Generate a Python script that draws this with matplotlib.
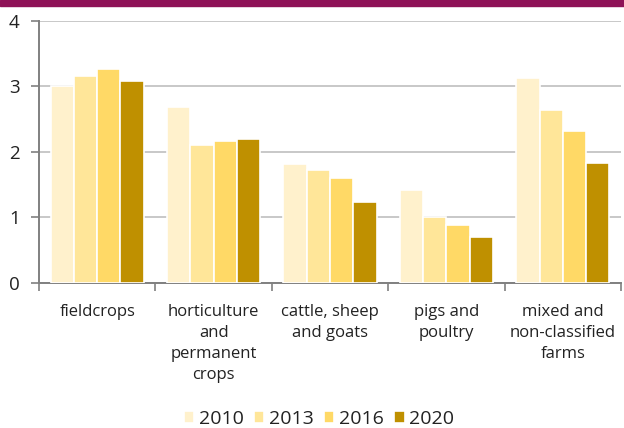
import matplotlib.pyplot as plt
import numpy as np

categories = ['fieldcrops', 'horticulture\nand\npermanent\ncrops', 'cattle, sheep\nand goats',
              'pigs and\npoultry', 'mixed and\nnon-classified\nfarms']
years = ['2010', '2013', '2016', '2020']
v2010 = [3.00, 2.69, 1.81, 1.41, 3.13]
v2013 = [3.15, 2.10, 1.72, 1.00, 2.63]
v2016 = [3.26, 2.16, 1.60, 0.88, 2.32]
v2020 = [3.08, 2.20, 1.23, 0.70, 1.82]
colors = ['#FFF1CC', '#FFE699', '#FFD966', '#BF9000']

plt.rcParams['font.family'] = ['Open Sans', 'DejaVu Sans']
px = 1 / 100
fig = plt.figure(figsize=(624 * px, 428 * px), dpi=100)
ax = fig.add_axes([39 / 624, 1 - 282.7 / 428, 582 / 624, 262 / 428])

x = np.arange(len(categories))
w = 0.2
for i, (vals, yr) in enumerate(zip([v2010, v2013, v2016, v2020], years)):
    ax.bar(x + (i - 1.5) * w, vals, width=w, color=colors[i], edgecolor='white',
           linewidth=1.2, label=yr, zorder=3)

ax.set_xlim(-0.5, len(categories) - 0.5)
ax.set_ylim(0, 4)
ax.set_yticks([0, 1, 2, 3, 4])
ax.yaxis.grid(True, color='#BFBFBF', linewidth=1.2, zorder=0)
ax.set_xticks(x)
ax.set_xticklabels(categories, fontsize=12, color='#222222', linespacing=1.42, va='top')
ax.set_xticks(np.arange(len(categories) + 1) - 0.5, minor=True)
ax.tick_params(axis='x', which='major', length=0, pad=15)
ax.tick_params(axis='x', which='minor', length=6, width=1.2, color='#808080')
ax.tick_params(axis='y', length=6, width=1.2, color='#808080', labelsize=13.5,
               labelcolor='#222222', pad=8)
for s in ['top', 'right']:
    ax.spines[s].set_visible(False)
for s in ['left', 'bottom']:
    ax.spines[s].set_color('#808080')
    ax.spines[s].set_linewidth(1.4)

fig.legend(loc='center', bbox_to_anchor=(319 / 624, 1 - 419 / 428), ncol=4, frameon=False,
           fontsize=14, handlelength=0.55, handleheight=0.55, handletextpad=0.25,
           columnspacing=0.5, labelcolor='#222222', borderaxespad=0, borderpad=0)

fig.patches.append(plt.Rectangle((0, 1 - 6 / 428), 1, 6 / 428, transform=fig.transFigure,
                                 color='#8E1257', zorder=0))

plt.savefig('out.png', dpi=100)
